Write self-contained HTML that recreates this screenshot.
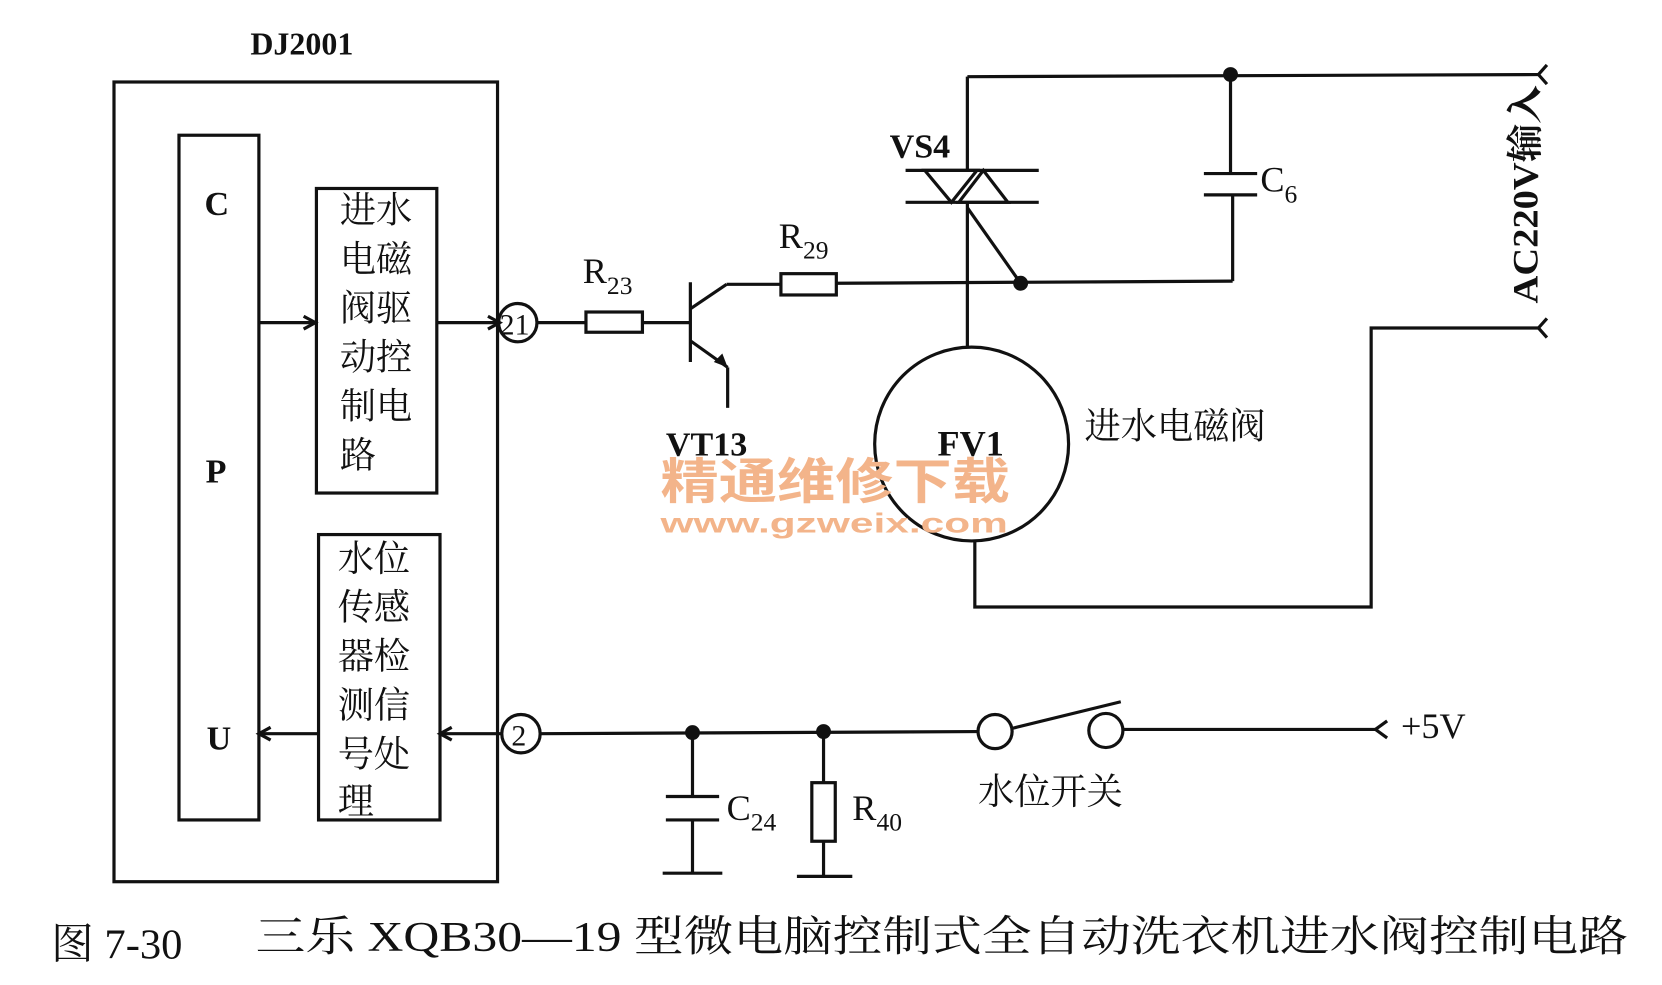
<!DOCTYPE html>
<html><head><meta charset="utf-8"><style>
html,body{margin:0;padding:0;background:#fff;}
svg{display:block;}
.s{font-family:"Liberation Serif","Noto Serif CJK SC",serif;}
.c{font-family:"Liberation Serif","Noto Serif CJK SC","Noto Sans CJK SC",serif;}
</style></head><body>
<svg width="1662" height="985" viewBox="0 0 1560 925" preserveAspectRatio="none" xmlns="http://www.w3.org/2000/svg">
<g fill="none" stroke="#111" stroke-width="3">
<rect x="107" y="77" width="360" height="751"/>
<rect x="168" y="127" width="75" height="643"/>
<rect x="297" y="177" width="113" height="286"/>
<rect x="299" y="502" width="114" height="268"/>
<line x1="243" y1="303" x2="295" y2="303"/>
<polyline points="285,297 296,303 285,309"/>
<line x1="410" y1="303" x2="468" y2="303"/>
<polyline points="458,297 469,303 458,309"/>
<circle cx="486" cy="303" r="18"/>
<circle cx="489" cy="689" r="18"/>
<line x1="471" y1="689" x2="414" y2="689"/>
<polyline points="424,683 413,689 424,695"/>
<line x1="299" y1="689" x2="244" y2="689"/>
<polyline points="254,683 243,689 254,695"/>
<line x1="504" y1="303" x2="550" y2="303"/>
<rect x="550" y="293" width="53" height="19"/>
<line x1="603" y1="303" x2="648" y2="303"/>
<line x1="648" y1="265" x2="648" y2="340"/>
<line x1="648" y1="290" x2="682" y2="267"/>
<line x1="682" y1="267" x2="733" y2="267"/>
<rect x="733" y="257" width="52" height="20"/>
<line x1="785" y1="266" x2="1157" y2="264"/>
<line x1="648" y1="320" x2="683" y2="345"/>
<line x1="683" y1="345" x2="683" y2="383"/>
<line x1="908" y1="72" x2="1444" y2="70"/>
<line x1="908" y1="72" x2="908" y2="160"/>
<line x1="850" y1="160" x2="975" y2="160"/>
<line x1="850" y1="190" x2="975" y2="190"/>
<polygon points="868,160 917,160 893,190"/>
<polygon points="900,190 946,190 923,160"/>
<line x1="908" y1="190" x2="908" y2="325"/>
<line x1="908" y1="195" x2="958" y2="266"/>
<line x1="1157" y1="264" x2="1157" y2="183"/>
<line x1="1130" y1="183" x2="1180" y2="183"/>
<line x1="1130" y1="163" x2="1180" y2="163"/>
<line x1="1155" y1="163" x2="1155" y2="70"/>
<circle cx="912" cy="417" r="91"/>
<polyline points="915,508 915,570 1287,570 1287,308 1444,308"/>
<polyline points="1452,61 1444,70 1452,79"/>
<polyline points="1452,299 1444,308 1452,317"/>
<line x1="507" y1="689" x2="918" y2="687"/>
<circle cx="934" cy="687" r="16"/>
<line x1="950" y1="684" x2="1052" y2="659"/>
<circle cx="1038" cy="686" r="16"/>
<line x1="1054" y1="685" x2="1292" y2="685"/>
<polyline points="1302,677 1291,685 1302,693"/>
<line x1="650" y1="688" x2="650" y2="748"/>
<line x1="625" y1="748" x2="675" y2="748"/>
<line x1="625" y1="770" x2="675" y2="770"/>
<line x1="650" y1="770" x2="650" y2="820"/>
<line x1="622" y1="820" x2="678" y2="820"/>
<line x1="773" y1="687" x2="773" y2="735"/>
<rect x="762" y="735" width="22" height="55"/>
<line x1="773" y1="790" x2="773" y2="823"/>
<line x1="748" y1="823" x2="800" y2="823"/>
</g>
<polygon points="683,345 670,340 678,332" fill="#111"/>
<g fill="#111">
<circle cx="958" cy="266" r="7"/>
<circle cx="1155" cy="70" r="7"/>
<circle cx="650" cy="688" r="7"/>
<circle cx="773" cy="687" r="7"/>
</g>
<g class="s" fill="#111" font-weight="bold">
<text x="235" y="51" font-size="30">DJ2001</text>
<text x="192" y="202" font-size="32">C</text>
<text x="193" y="453" font-size="32">P</text>
<text x="194" y="704" font-size="32">U</text>
<text x="835" y="148" font-size="32">VS4</text>
<text x="625" y="428" font-size="32">VT13</text>
<text x="880" y="428" font-size="34">FV1</text>
</g>
<g class="s" fill="#111" font-size="34">
<text x="469" y="314" font-size="28">21</text>
<text x="480" y="700" font-size="28">2</text>
<text x="547" y="266">R<tspan font-size="24" dy="10">23</tspan></text>
<text x="731" y="233">R<tspan font-size="24" dy="10">29</tspan></text>
<text x="1183" y="180">C<tspan font-size="24" dy="10">6</tspan></text>
<text x="682" y="770">C<tspan font-size="24" dy="10">24</tspan></text>
<text x="800" y="770">R<tspan font-size="24" dy="10">40</tspan></text>
<text x="1315" y="693">+5V</text>
<text transform="translate(1443,285) rotate(-90)" font-weight="bold" font-size="34" textLength="205" lengthAdjust="spacingAndGlyphs">AC220V输入</text>
</g>
<g class="c" fill="#111" font-size="34">
<text x="319" y="209">进水</text><text x="319" y="255">电磁</text><text x="319" y="301">阀驱</text>
<text x="319" y="347">动控</text><text x="319" y="393">制电</text><text x="319" y="439">路</text>
<text x="317" y="536">水位</text><text x="317" y="582">传感</text><text x="317" y="628">器检</text>
<text x="317" y="674">测信</text><text x="317" y="720">号处</text><text x="317" y="764">理</text>
<text x="1018" y="412">进水电磁阀</text>
<text x="918" y="755">水位开关</text>
<text x="48" y="900" font-size="40">图 7-30</text>
<text x="240" y="893" font-size="40" textLength="1288" lengthAdjust="spacingAndGlyphs">三乐 XQB30—19 型微电脑控制式全自动洗衣机进水阀控制电路</text>
</g>
<g fill="#f3b48a" font-family="'Noto Sans CJK SC',sans-serif" font-weight="bold">
<text x="620" y="468" font-size="46" textLength="328" lengthAdjust="spacingAndGlyphs">精通维修下载</text>
<text x="620" y="500" font-size="26" font-family="'Liberation Sans',sans-serif" textLength="326" lengthAdjust="spacingAndGlyphs">www.gzweix.com</text>
</g>
</svg>
</body></html>
